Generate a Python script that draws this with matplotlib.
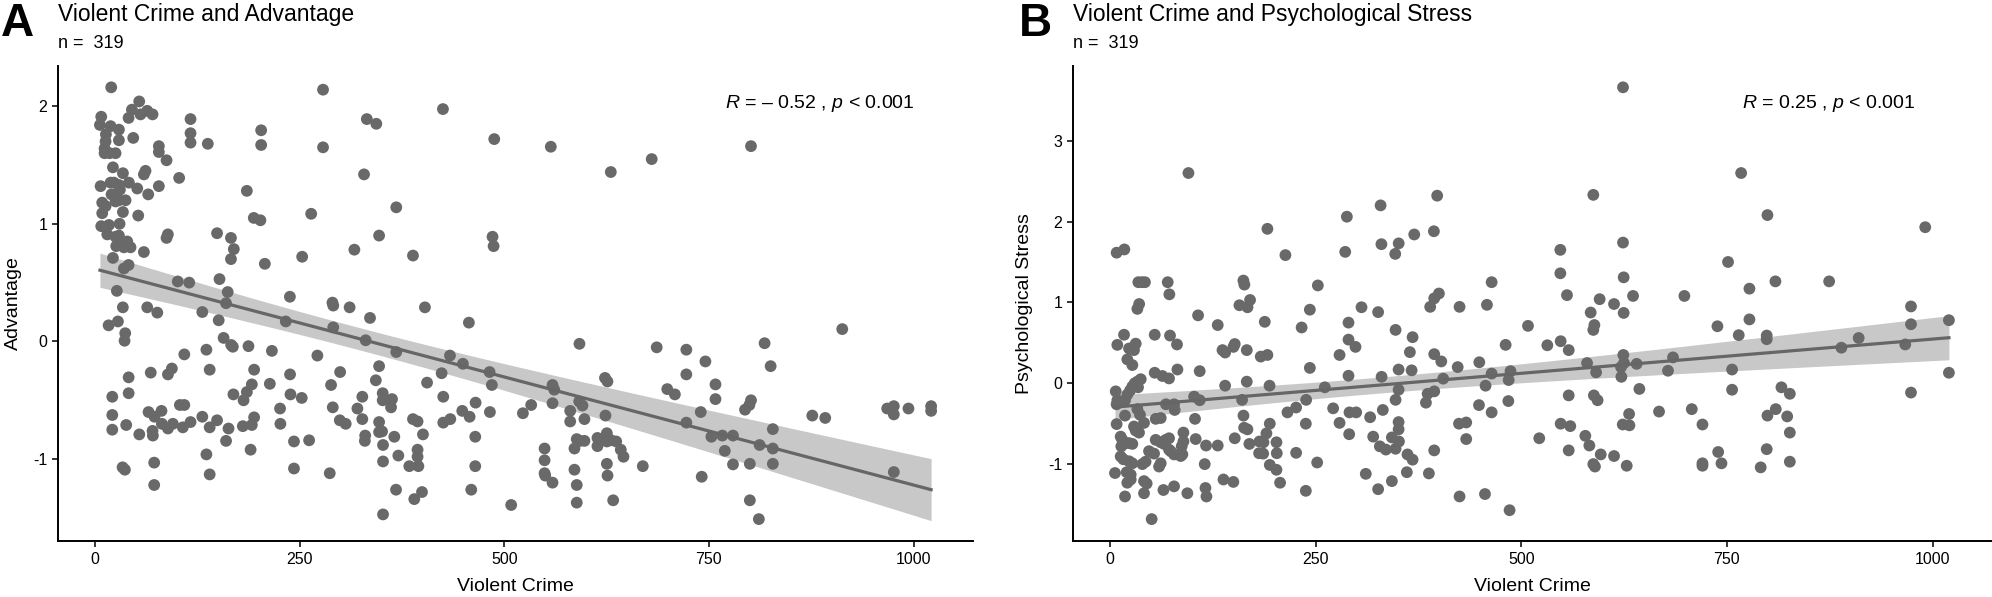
import numpy as np
import matplotlib
matplotlib.use("Agg")
import matplotlib.pyplot as plt

plt.rcParams['font.family'] = ['Liberation Sans', 'DejaVu Sans']
plt.rcParams['mathtext.fontset'] = 'custom'
plt.rcParams['mathtext.rm'] = 'Liberation Sans'
plt.rcParams['mathtext.it'] = 'Liberation Sans:italic'

# Panel A: violent crime vs advantage
crime_a = [
    19.7, 53.9, 45.0, 63.7, 70.2, 55.5, 40.9, 7.5, 5.9, 18.9,
    29.1, 13.2, 46.6, 29.1, 12.8, 11.6, 11.6, 17.7, 25.0, 116.6,
    116.6, 116.6, 137.7, 77.9, 77.9, 87.3, 21.8, 34.0, 61.6, 59.6,
    102.7, 6.7, 18.9, 23.0, 29.1, 41.3, 51.5, 77.9, 20.1, 30.3,
    24.2, 64.9, 37.2, 29.1, 25.0, 8.7, 12.8, 8.7, 34.0, 52.7,
    29.9, 7.5, 16.9, 14.9, 25.0, 29.1, 39.3, 31.1, 25.8, 35.2,
    43.3, 88.9, 87.3, 59.6, 21.8, 40.9, 35.2, 149, 166, 169.5,
    166, 278.5, 425, 332, 343.6, 202.9, 202.9, 278.5, 328.6, 185.4,
    368, 264, 193.9, 202, 347, 316.8, 253, 388.4, 207.4, 101,
    115, 152, 162, 26.6, 238, 160, 290, 291, 311, 403,
    33.9, 63.7, 76, 131, 335.9, 16.5, 27.9, 151, 233, 291,
    456.7, 36.8, 36, 157, 166.3, 168.3, 187.4, 330.6, 368, 433.6,
    449.4, 109, 136, 216, 271.6, 347, 343, 299.4, 423.4, 405.6,
    41, 41, 21, 68, 89, 93.8, 140, 194.3, 191.5, 213.5,
    238.2, 238.7, 252.5, 288.3, 290.4, 326.5, 320.5, 326.5, 351.4, 351.4,
    362.8, 361.6, 425.4, 464.9, 448.6, 457.6, 434, 425.4, 169, 181.4,
    185.4, 226, 226.4, 194.3, 191.5, 180.5, 21, 21, 38, 54,
    65.3, 72.6, 81.1, 81.6, 89, 95, 103.6, 109, 107.2, 116.6,
    131, 140, 149, 163, 70.2, 70.6, 160, 190, 243, 261.5,
    299, 306.2, 330, 329.6, 347, 350.6, 347, 351.8, 365.6, 370.5,
    388.4, 394, 400.6, 394, 394, 383.9, 395, 351.8, 367.7, 390,
    399.4, 351.8, 464.5, 464.5, 459.6, 286.7, 243, 136, 140, 72.2,
    72.2, 33.6, 36.4, 487.7, 556.8, 630.1, 680.1, 801.4, 485.6, 486.9,
    591.8, 686.2, 722.4, 818, 912.9, 745.7, 825.4, 482, 484.8, 482.4,
    722.4, 758, 758, 699.1, 708.4, 558.9, 561, 558.9, 532.8, 522.7,
    623, 626, 623.6, 591.5, 595.5, 580.5, 580.5, 597.9, 740, 722.4,
    801.4, 799.4, 794.1, 876.3, 892.1, 967.8, 975.9, 975.9, 993.8, 1021.5,
    1021.5, 828.1, 753, 766.4, 779.4, 769.4, 811.9, 828.1, 828.1, 800,
    779.4, 741.2, 800, 811, 975.9, 549.2, 549.2, 549.2, 550, 558.9,
    585.7, 588.5, 592.6, 597.9, 585.7, 588.5, 588.5, 613.8, 613.8, 625.3,
    625.3, 630.6, 636.7, 642.3, 645.6, 625.3, 626.1, 633, 669.2, 508.4,
]
advantage = [
    2.16, 2.04, 1.97, 1.96, 1.93, 1.93, 1.90, 1.91, 1.84, 1.83,
    1.80, 1.76, 1.73, 1.71, 1.70, 1.64, 1.60, 1.60, 1.60, 1.89,
    1.77, 1.69, 1.68, 1.66, 1.61, 1.54, 1.48, 1.43, 1.45, 1.42,
    1.39, 1.32, 1.35, 1.35, 1.33, 1.35, 1.30, 1.32, 1.25, 1.29,
    1.23, 1.25, 1.20, 1.20, 1.19, 1.18, 1.15, 1.09, 1.10, 1.07,
    1.00, 0.98, 0.99, 0.91, 0.89, 0.90, 0.85, 0.82, 0.81, 0.80,
    0.80, 0.91, 0.88, 0.76, 0.71, 0.65, 0.62, 0.92, 0.88, 0.785,
    0.70, 2.14, 1.975, 1.89, 1.85, 1.795, 1.67, 1.65, 1.42, 1.28,
    1.14, 1.085, 1.05, 1.03, 0.90, 0.78, 0.72, 0.73, 0.66, 0.51,
    0.50, 0.53, 0.42, 0.43, 0.38, 0.325, 0.33, 0.305, 0.29, 0.29,
    0.29, 0.29, 0.245, 0.25, 0.20, 0.137, 0.17, 0.18, 0.17, 0.12,
    0.16, 0.07, 0.006, 0.03, -0.03, -0.045, -0.04, 0.01, -0.09, -0.12,
    -0.19, -0.11, -0.07, -0.08, -0.12, -0.21, -0.33, -0.26, -0.27, -0.35,
    -0.305, -0.44, -0.47, -0.265, -0.28, -0.23, -0.24, -0.24, -0.365, -0.36,
    -0.28, -0.45, -0.48, -0.37, -0.56, -0.47, -0.57, -0.66, -0.44, -0.50,
    -0.49, -0.56, -0.47, -0.52, -0.59, -0.64, -0.66, -0.69, -0.45, -0.50,
    -0.43, -0.57, -0.70, -0.645, -0.71, -0.72, -0.625, -0.75, -0.71, -0.79,
    -0.60, -0.64, -0.59, -0.70, -0.74, -0.70, -0.54, -0.54, -0.73, -0.685,
    -0.64, -0.73, -0.67, -0.74, -0.76, -0.80, -0.845, -0.92, -0.85, -0.84,
    -0.67, -0.70, -0.80, -0.845, -0.685, -0.765, -0.77, -0.88, -0.81, -0.97,
    -0.66, -0.68, -0.79, -0.92, -0.98, -1.06, -1.06, -1.02, -1.26, -1.34,
    -1.28, -1.47, -0.81, -1.06, -1.26, -1.12, -1.08, -0.96, -1.13, -1.03,
    -1.22, -1.07, -1.09, 1.72, 1.655, 1.44, 1.55, 1.66, 0.89, 0.81,
    -0.02, -0.05, -0.07, -0.015, 0.105, -0.17, -0.21, -0.26, -0.37, -0.60,
    -0.28, -0.365, -0.49, -0.405, -0.45, -0.37, -0.41, -0.525, -0.54, -0.61,
    -0.31, -0.34, -0.63, -0.51, -0.545, -0.59, -0.68, -0.66, -0.60, -0.69,
    -0.50, -0.54, -0.58, -0.63, -0.65, -0.57, -0.55, -0.62, -0.57, -0.55,
    -0.59, -0.745, -0.81, -0.80, -0.80, -0.93, -0.88, -0.91, -1.04, -1.04,
    -1.045, -1.15, -1.35, -1.51, -1.11, -0.91, -1.01, -1.12, -1.14, -1.20,
    -0.91, -0.83, -0.845, -0.845, -1.09, -1.22, -1.37, -0.82, -0.89, -0.78,
    -0.85, -0.84, -0.85, -0.92, -0.98, -1.04, -1.14, -1.35, -1.06, -1.39,
]

# Panel B: violent crime vs psychological stress
crime_b = [
    95.4, 397.8, 329, 288, 191.4, 369.9, 393.8, 8.1, 17.5, 213.3,
    286, 330, 351, 346.8, 34.5, 38.8, 42.5, 70.2, 72.2, 162.2,
    163.4, 252.7, 399.9, 394.2, 464, 170.3, 623.7, 767.3, 587.6, 799.3,
    991.1, 547.5, 547.5, 623.7, 624.5, 555.6, 595.3, 635.9, 698.3, 751.4,
    777.4, 809, 874.3, 35.5, 33.3, 157.4, 167.2, 243, 107.1, 131,
    188.2, 233, 17.1, 54.4, 73, 8.95, 31.3, 23.2, 29.2, 81.5,
    136.8, 140, 150.1, 151.7, 166.3, 183.3, 191.4, 21.1, 27.2, 54.4,
    63.7, 71.8, 82, 109.1, 243, 7, 9, 18.3, 21.1, 24.4,
    27.2, 30.1, 33.3, 37.4, 34.1, 8.1, 33.3, 36.5, 18.3, 8.1,
    29.2, 31.3, 35.3, 41.4, 55.6, 61.7, 68.1, 77.9, 78.7, 102.3,
    109.1, 103.4, 140, 166.3, 160.6, 194, 162.3, 163.1, 167.1, 194.3,
    215.8, 226.3, 238.5, 238.1, 190.2, 202.4, 202.8, 202.4, 181.7, 186.6,
    181.3, 186.2, 194.3, 206.8, 226.3, 238.1, 251.9, 151.7, 169.5, 131,
    116.8, 104.2, 115.2, 138, 150, 116.1, 117.3, 94.1, 77.9, 65,
    41.4, 18.3, 50.7, 6.1, 20.3, 25.2, 21.1, 25.2, 41.4, 44.6,
    39.4, 43.3, 61.7, 59.7, 73.8, 77.9, 71.8, 88, 86, 89.3,
    89.3, 87.2, 55.6, 61.7, 67.8, 71.8, 65.8, 47.5, 53.6, 13,
    15, 13.8, 19.1, 23.2, 27.2, 13, 16.3, 23.2, 27.2, 305.8,
    326, 425, 458.3, 389.3, 290, 290, 298.5, 279.1, 290, 330.2,
    347.2, 367.9, 364.6, 350.9, 366.7, 394.2, 402.8, 422.7, 449, 481,
    405.1, 350.9, 347.2, 386.2, 394.2, 384.1, 456.6, 464, 484.7, 484.3,
    448.6, 464, 271.3, 279.1, 290.8, 291.2, 299.3, 316.3, 331.7, 320,
    328.1, 335.4, 347.2, 342.7, 350.9, 350.9, 351.3, 361.7, 367.9, 394.2,
    424.3, 433.1, 433.1, 360.9, 387.7, 342.7, 326, 311, 425, 455.9,
    485.8, 261.2, 486.9, 612.8, 584.4, 624.5, 508.2, 588.9, 587.6, 738.5,
    777.4, 764.4, 798.4, 798.4, 973.8, 973.8, 1019.9, 910.2, 889.2, 966.8,
    1019.9, 973.8, 531.7, 547.9, 557.7, 580, 591, 624.1, 624.9, 621.3,
    621.7, 640.3, 684.5, 678.4, 756.3, 756.3, 643.6, 557.7, 588.3, 592.8,
    667.5, 707.3, 720.3, 631.1, 623.4, 631.5, 547.9, 559.6, 521.9, 577.9,
    582.8, 557.7, 596.6, 612.8, 587.6, 589.6, 628.2, 720.3, 720.3, 739.4,
    743.4, 791.1, 798.4, 799.3, 809.4, 816.3, 826.5, 823.3, 826.5, 826.5,
]
stress = [
    2.60, 2.32, 2.20, 2.06, 1.91, 1.84, 1.88, 1.615, 1.655, 1.585,
    1.625, 1.72, 1.73, 1.60, 1.25, 1.25, 1.25, 1.25, 1.10, 1.27,
    1.22, 1.21, 1.11, 1.05, 1.25, 1.03, 3.66, 2.60, 2.33, 2.08,
    1.93, 1.65, 1.36, 1.74, 1.31, 1.09, 1.04, 1.08, 1.08, 1.50,
    1.17, 1.26, 1.26, 0.98, 0.92, 0.965, 0.94, 0.91, 0.84, 0.72,
    0.76, 0.69, 0.60, 0.60, 0.59, 0.475, 0.49, 0.43, 0.41, 0.48,
    0.41, 0.38, 0.45, 0.485, 0.41, 0.33, 0.35, 0.295, 0.225, 0.13,
    0.09, 0.06, 0.17, 0.15, 0.19, -0.10, -0.21, -0.21, -0.14, -0.09,
    -0.04, 0.00, 0.02, 0.05, -0.05, -0.26, -0.32, -0.39, -0.40, -0.505,
    -0.535, -0.585, -0.61, -0.49, -0.44, -0.43, -0.26, -0.26, -0.33, -0.165,
    -0.21, -0.44, -0.03, 0.02, -0.205, -0.03, -0.40, -0.55, -0.57, -0.50,
    -0.36, -0.30, -0.205, -0.50, -0.62, -0.73, -0.865, -1.07, -0.72, -0.73,
    -0.865, -0.87, -1.01, -1.23, -0.86, -1.33, -0.98, -0.68, -0.75, -0.77,
    -0.77, -0.69, -1.0, -1.19, -1.22, -1.295, -1.40, -1.36, -1.275, -1.32,
    -1.36, -1.40, -1.68, -1.11, -1.10, -1.13, -1.23, -1.19, -1.21, -1.24,
    -1.0, -0.97, -0.99, -1.03, -0.84, -0.88, -0.82, -0.88, -0.90, -0.61,
    -0.72, -0.78, -0.70, -0.73, -0.70, -0.68, -0.75, -0.84, -0.87, -0.66,
    -0.70, -0.78, -0.74, -0.74, -0.75, -0.905, -0.94, -0.965, -0.99, 0.94,
    0.88, 0.945, 0.97, 0.945, 0.75, 0.54, 0.45, 0.35, 0.093, 0.08,
    0.66, 0.57, 0.385, 0.17, 0.16, 0.36, 0.27, 0.20, 0.26, 0.475,
    0.057, -0.08, -0.205, -0.13, -0.10, -0.24, -0.03, 0.12, 0.04, -0.22,
    -0.27, -0.36, -0.31, -0.49, -0.63, -0.36, -0.36, -0.42, -0.33, -0.66,
    -0.78, -0.82, -0.81, -0.67, -0.48, -0.57, -0.72, -0.88, -0.945, -0.83,
    -0.50, -0.485, -0.69, -1.10, -1.115, -1.21, -1.31, -1.12, -1.40, -1.37,
    -1.57, -0.05, 0.15, 0.98, 0.875, 0.87, 0.71, 0.72, 0.66, 0.705,
    0.79, 0.595, 0.59, 0.545, 0.95, 0.73, 0.78, 0.56, 0.44, 0.48,
    0.13, -0.115, 0.47, 0.52, 0.41, 0.25, 0.135, 0.35, 0.25, 0.20,
    0.08, 0.24, 0.32, 0.155, 0.17, -0.08, -0.07, -0.15, -0.15, -0.21,
    -0.35, -0.32, -0.51, -0.38, -0.51, -0.52, -0.50, -0.53, -0.68, -0.65,
    -0.77, -0.83, -0.88, -0.90, -1.0, -1.03, -1.02, -0.99, -1.02, -0.85,
    -0.99, -1.04, -0.815, -0.40, -0.32, -0.05, -0.13, -0.41, -0.61, -0.97,
]

x_ticks = [0, 250, 500, 750, 1000]
y_ticks_a = [-1, 0, 1, 2]
y_ticks_b = [-1, 0, 1, 2, 3]

PT_COL = '#696969'
LINE_COL = '#666666'
BAND_COL = '#c8c8c8'


def lm_band(x, y, n_pts=100, t=1.968):
    # linear fit with 95% confidence band, like geom_smooth(method = "lm")
    x = np.asarray(x)
    y = np.asarray(y)
    b, a = np.polyfit(x, y, 1)
    xs = np.linspace(x.min(), x.max(), n_pts)
    yh = a + b * xs
    res = y - (a + b * x)
    n = len(x)
    s = np.sqrt(np.sum(res ** 2) / (n - 2))
    se = s * np.sqrt(1 / n + (xs - x.mean()) ** 2 / np.sum((x - x.mean()) ** 2))
    return xs, yh, yh - t * se, yh + t * se


def panel(ax, x, y, yticks, ylabel, stat_txt, ylab_x):
    x = np.asarray(x)
    y = np.asarray(y)
    xs, yh, lo, hi = lm_band(x, y)
    ax.fill_between(xs, lo, hi, color=BAND_COL, lw=0, zorder=1)
    ax.scatter(x, y, s=72, color=PT_COL, edgecolors='none', zorder=2)
    ax.plot(xs, yh, color=LINE_COL, lw=2.3, zorder=3)

    xr = x.max() - x.min()
    yr = y.max() - y.min()
    ax.set_xlim(x.min() - 0.05 * xr, x.max() + 0.05 * xr)
    ax.set_ylim(y.min() - 0.05 * yr, y.max() + 0.05 * yr)
    ax.set_xticks(x_ticks)
    ax.set_yticks(yticks)
    ax.set_xticklabels([str(v) for v in x_ticks])
    ax.set_yticklabels([str(v) for v in yticks])

    for sp in ['top', 'right']:
        ax.spines[sp].set_visible(False)
    for sp in ['left', 'bottom']:
        ax.spines[sp].set_linewidth(1.4)
    ax.tick_params(direction='out', length=4, width=1.1, labelsize=11.5,
                   colors='black', pad=4)

    ax.set_xlabel('Violent Crime', fontsize=14)
    ax.set_ylabel(ylabel, fontsize=14)
    ax.xaxis.set_label_coords(0.5, -0.078)
    ax.yaxis.set_label_coords(ylab_x, 0.5)

    ax.text(0.729, 0.921, stat_txt, transform=ax.transAxes, fontsize=14,
            ha='left', va='center')


fig = plt.figure(figsize=(19.92, 5.97), dpi=100)
ax1 = fig.add_axes([0.0293, 0.0943, 0.4590, 0.7956])
ax2 = fig.add_axes([0.5388, 0.0943, 0.4605, 0.7956])

panel(ax1, crime_a, advantage, y_ticks_a, 'Advantage',
      r'$R$ = – 0.52 , $p$ < 0.001', -0.040)
panel(ax2, crime_b, stress, y_ticks_b, 'Psychological Stress',
      r'$R$ = 0.25 , $p$ < 0.001', -0.044)

W, H = 1992, 597
fig.text(1 / W, 1 - 2 / H, 'A', fontsize=33, fontweight='bold', va='top')
fig.text(58 / W, 1 - 3 / H, 'Violent Crime and Advantage', fontsize=16.5, va='top')
fig.text(58 / W, 1 - 35 / H, 'n =  319', fontsize=13, va='top')

fig.text(1019 / W, 1 - 2 / H, 'B', fontsize=33, fontweight='bold', va='top')
fig.text(1073 / W, 1 - 3 / H, 'Violent Crime and Psychological Stress', fontsize=16.5, va='top')
fig.text(1073 / W, 1 - 35 / H, 'n =  319', fontsize=13, va='top')

fig.savefig('out.png', dpi=100)
